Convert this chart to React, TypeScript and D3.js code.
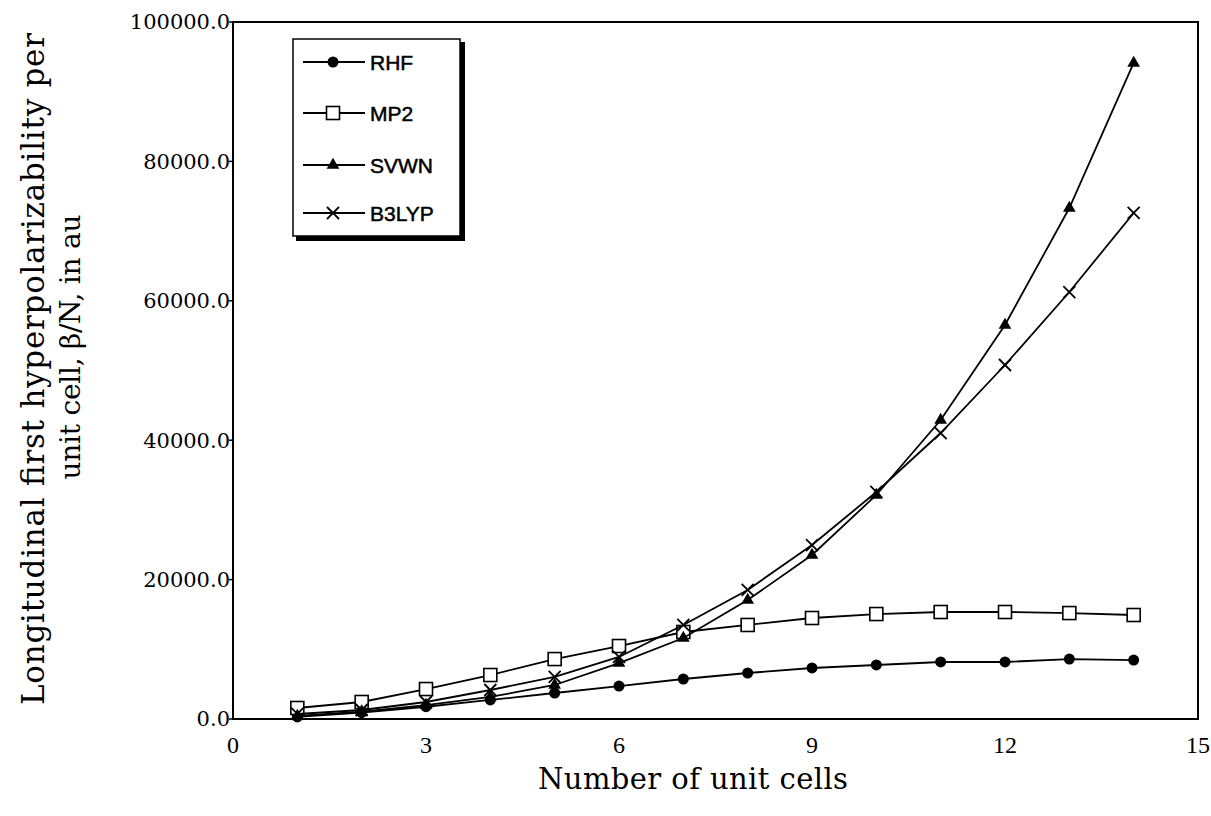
import React from "react";
import * as d3 from "d3";

// Number of unit cells along the chain
const cells = [1, 2, 3, 4, 5, 6, 7, 8, 9, 10, 11, 12, 13, 14];

// Longitudinal first hyperpolarizability per unit cell (au)
const rhf = [300, 900, 1760, 2730, 3730, 4730, 5740, 6600, 7320, 7750, 8180, 8180, 8600, 8460];
const mp2 = [1580, 2440, 4300, 6310, 8600, 10470, 12480, 13490, 14490, 15060, 15350, 15350, 15200, 14920];
const svwn = [430, 1050, 2000, 3160, 4880, 8030, 11620, 17070, 23530, 32140, 42900, 56530, 73310, 94120];
const b3lyp = [720, 1290, 2440, 4160, 6030, 8900, 13490, 18510, 24960, 32570, 41030, 50790, 61260, 72600];

const seriesNames = ["RHF", "MP2", "SVWN", "B3LYP"];
const seriesValues = [rhf, mp2, svwn, b3lyp];
const markerKinds = ["circle", "square", "triangle", "cross"];

const xTicks = [0, 3, 6, 9, 12, 15];
const yTicks = [0, 20000, 40000, 60000, 80000, 100000];

const W = 1211;
const H = 816;
const M = { left: 233, right: 1198, top: 22, bottom: 719 };

function Marker({ kind, x, y }: { kind: string; x: number; y: number }) {
  if (kind === "circle") return <circle cx={x} cy={y} r={5.5} fill="#000" />;
  if (kind === "square")
    return <rect x={x - 6.5} y={y - 6.5} width={13} height={13} fill="#fff" stroke="#000" strokeWidth={1.6} />;
  if (kind === "triangle") {
    const p = d3.symbol(d3.symbolTriangle, 70)();
    return <path d={p ?? ""} transform={`translate(${x},${y})`} fill="#000" />;
  }
  return (
    <g stroke="#000" strokeWidth={1.8}>
      <line x1={x - 6} y1={y - 6} x2={x + 6} y2={y + 6} />
      <line x1={x - 6} y1={y + 6} x2={x + 6} y2={y - 6} />
    </g>
  );
}

export default function App() {
  const x = d3.scaleLinear().domain([0, 15]).range([M.left, M.right]);
  const y = d3.scaleLinear().domain([0, 100000]).range([M.bottom, M.top]);
  const line = d3
    .line<number>()
    .x((_, i) => x(cells[i]))
    .y((v) => y(v));

  const serif = "'DejaVu Serif', serif";
  const tickFont = "'Liberation Serif', 'Times New Roman', serif";
  const legendX = 303;
  const legendRows = [62, 113, 165, 213];

  return (
    <svg
      width={W}
      height={H}
      style={{ position: "absolute", left: 0, top: 0, background: "#fff" }}
    >
      <rect width={W} height={H} fill="#fff" />
      {/* plot frame */}
      <rect
        x={M.left}
        y={M.top}
        width={M.right - M.left}
        height={M.bottom - M.top}
        fill="none"
        stroke="#000"
        strokeWidth={2}
      />
      {/* y axis ticks and labels */}
      {yTicks.map((t) => (
        <g key={t}>
          <line x1={M.left - 4} x2={M.left} y1={y(t)} y2={y(t)} stroke="#000" strokeWidth={1.5} />
          <text
            x={M.left - 3}
            y={y(t)}
            dy="0.35em"
            textAnchor="end"
            fontFamily={serif}
            fontSize={21}
            fill="#000"
          >
            {t.toFixed(1)}
          </text>
        </g>
      ))}
      {/* x axis labels */}
      {xTicks.map((t) => (
        <text
          key={t}
          x={x(t)}
          y={753}
          textAnchor="middle"
          fontFamily={tickFont}
          fontSize={24}
          fill="#000"
        >
          {t}
        </text>
      ))}
      <text
        x={693}
        y={789}
        textAnchor="middle"
        fontFamily={serif}
        fontSize={29}
        textLength={310}
        fill="#000"
      >
        Number of unit cells
      </text>
      <text
        transform="translate(44,369) rotate(-90)"
        textAnchor="middle"
        fontFamily={serif}
        fontSize={31}
        textLength={672}
        fill="#000"
      >
        Longitudinal first hyperpolarizability per
      </text>
      <text
        transform="translate(80,347) rotate(-90)"
        textAnchor="middle"
        fontFamily={serif}
        fontSize={28}
        textLength={265}
        fill="#000"
      >
        unit cell, β/N, in au
      </text>

      {/* series */}
      {seriesValues.map((vals, si) => (
        <g key={seriesNames[si]}>
          <path d={line(vals) ?? ""} fill="none" stroke="#000" strokeWidth={1.8} />
          {vals.map((v, i) => (
            <Marker key={i} kind={markerKinds[si]} x={x(cells[i])} y={y(v)} />
          ))}
        </g>
      ))}

      {/* legend with drop shadow */}
      <rect x={296} y={42} width={169} height={199} fill="#000" />
      <rect x={293} y={39} width={167} height={197} fill="#fff" stroke="#000" strokeWidth={1.5} />
      {seriesNames.map((name, i) => (
        <g key={name}>
          <line x1={legendX} x2={legendX + 62} y1={legendRows[i]} y2={legendRows[i]} stroke="#000" strokeWidth={1.8} />
          <Marker kind={markerKinds[i]} x={legendX + 30} y={legendRows[i]} />
          <text
            x={370}
            y={legendRows[i]}
            dy="0.36em"
            fontFamily="'Liberation Sans', Arial, sans-serif"
            fontSize={21}
            stroke="#000"
            strokeWidth={0.5}
            fill="#000"
          >
            {name}
          </text>
        </g>
      ))}
    </svg>
  );
}
